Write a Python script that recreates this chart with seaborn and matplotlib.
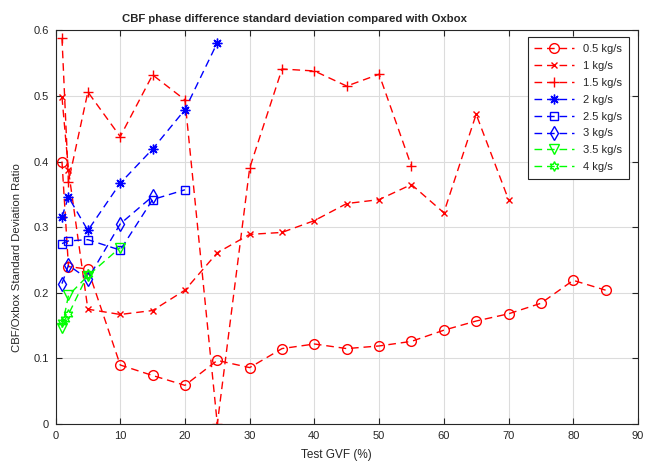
import numpy as np
import pandas as pd
import matplotlib
matplotlib.use("Agg")
import matplotlib.pyplot as plt
import seaborn as sns

# ---- data ----
labels = ["0.5 kg/s", "1 kg/s", "1.5 kg/s", "2 kg/s", "2.5 kg/s", "3 kg/s", "3.5 kg/s", "4 kg/s"]

x_05 = [1, 2, 5, 10, 15, 20, 25, 30, 35, 40, 45, 50, 55, 60, 65, 70, 75, 80, 85]
y_05 = [0.400, 0.240, 0.236, 0.090, 0.074, 0.059, 0.097, 0.086, 0.115, 0.122, 0.115, 0.119, 0.126, 0.143, 0.157, 0.168, 0.184, 0.219, 0.204]

x_10 = [1, 2, 5, 10, 15, 20, 25, 30, 35, 40, 45, 50, 55, 60, 65, 70]
y_10 = [0.498, 0.387, 0.175, 0.167, 0.173, 0.204, 0.261, 0.289, 0.292, 0.310, 0.336, 0.342, 0.365, 0.322, 0.472, 0.342]

x_15 = [1, 2, 5, 10, 15, 20, 25, 30, 35, 40, 45, 50, 55]
y_15 = [0.588, 0.369, 0.506, 0.438, 0.532, 0.494, 0.0, 0.390, 0.541, 0.538, 0.515, 0.533, 0.393]

x_20 = [1, 2, 5, 10, 15, 20, 25]
y_20 = [0.316, 0.346, 0.295, 0.367, 0.419, 0.479, 0.581]

x_25 = [1, 2, 5, 10, 15, 20]
y_25 = [0.275, 0.279, 0.281, 0.265, 0.342, 0.357]

x_30 = [1, 2, 5, 10, 15]
y_30 = [0.214, 0.242, 0.221, 0.305, 0.347]

x_35 = [1, 2, 5, 10]
y_35 = [0.147, 0.196, 0.226, 0.269]

x_40 = [1, 1.5, 2, 5]
y_40 = [0.155, 0.160, 0.167, 0.228]

xs = [x_05, x_10, x_15, x_20, x_25, x_30, x_35, x_40]
ys = [y_05, y_10, y_15, y_20, y_25, y_30, y_35, y_40]

colors = ["#ff0000"] * 3 + ["#0000ff"] * 3 + ["#00ff00"] * 2
markers = ["o", "x", "+", (8, 2, 0), "s", "d", "v", (6, 1, 0)]
msizes = [7, 5, 7, 7, 5.5, 7.5, 7, 7]

sns.set_theme(style="ticks")
plt.rcParams["font.family"] = ["Liberation Sans", "DejaVu Sans"]

fig = plt.figure(figsize=(6.47, 4.66), dpi=100)
ax = fig.add_axes([0.0858, 0.090, 0.9002, 0.845])

for lab, x, y, c, m, ms in zip(labels, xs, ys, colors, markers, msizes):
    df = pd.DataFrame({"x": x, "y": y})
    sns.lineplot(data=df, x="x", y="y", ax=ax, sort=False, estimator=None,
                 color=c, marker=m, markersize=ms, markerfacecolor="none",
                 markeredgecolor=c, markeredgewidth=1.0, linewidth=1.0,
                 linestyle=(0, (5.5, 3.5)), label=lab)

ax.set_xlim(0, 90)
ax.set_ylim(0, 0.6)
ax.set_xticks(np.arange(0, 91, 10))
ax.set_yticks(np.arange(0, 0.61, 0.1))
ax.set_yticklabels(["0", "0.1", "0.2", "0.3", "0.4", "0.5", "0.6"])
ax.grid(True, color="#dcdcdc", linewidth=0.8)
ax.set_axisbelow(True)
for s in ax.spines.values():
    s.set_color("#262626")
    s.set_linewidth(0.8)
    s.set_visible(True)
ax.tick_params(direction="in", top=True, right=True, length=4, width=0.8,
               labelsize=8, colors="#262626", labelcolor="#262626", pad=5)

ax.set_xlabel("Test GVF (%)", fontsize=8.5, color="#262626", labelpad=6)
ax.xaxis.label.set_x(0.483)
ax.set_ylabel("CBF/Oxbox Standard Deviation Ratio", fontsize=8.2, color="#262626", labelpad=8)
ax.yaxis.label.set_y(0.422)
ax.set_title("CBF phase difference standard deviation compared with Oxbox",
             fontsize=8.2, fontweight="bold", pad=6, x=0.41)

leg = ax.legend(loc="upper right", fontsize=8, frameon=True, fancybox=False,
                edgecolor="#262626", framealpha=1, handlelength=3.6,
                labelspacing=0.62, borderpad=0.6, borderaxespad=0,
                bbox_to_anchor=(0.9845, 0.982))
leg.get_frame().set_linewidth(0.8)

fig.savefig("out.png", dpi=100)
